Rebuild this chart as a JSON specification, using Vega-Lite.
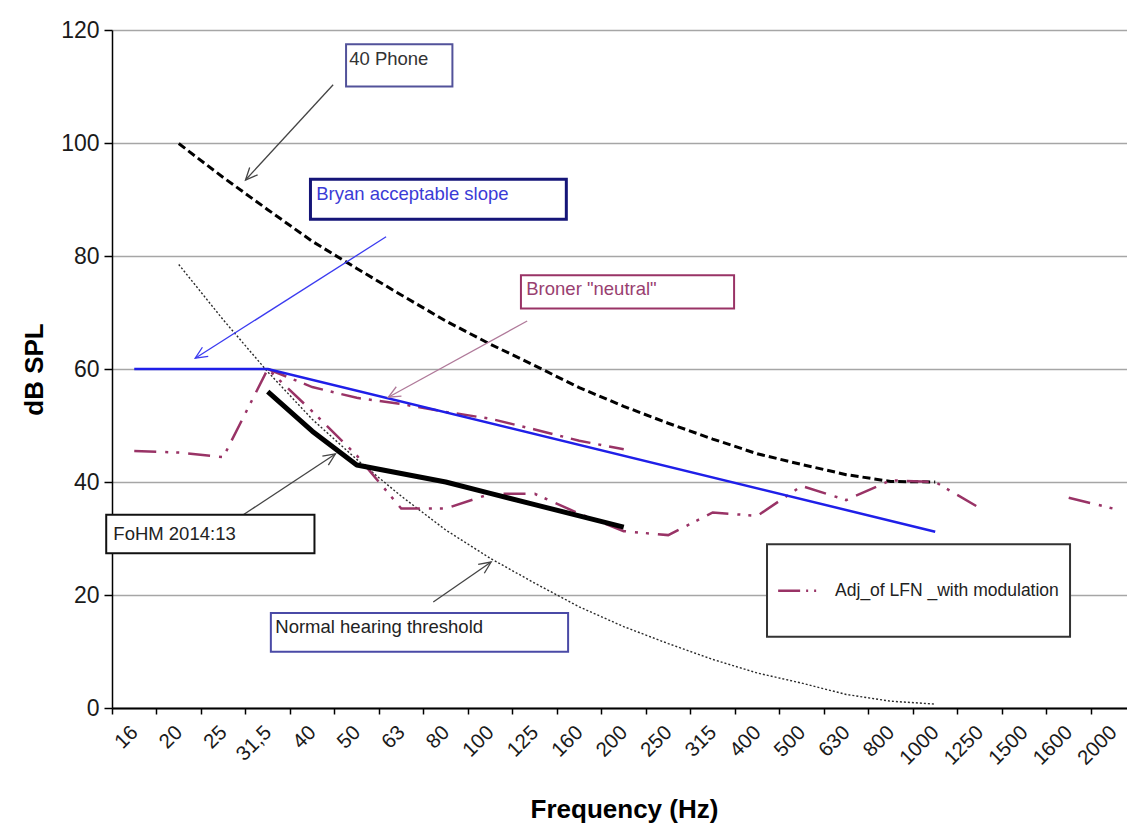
{
  "$schema": "https://vega.github.io/schema/vega-lite/v6.json",
  "width": 1015,
  "height": 678,
  "autosize": {"type": "none"},
  "padding": {"left": 112, "top": 30, "right": 0, "bottom": 118},
  "background": "white",
  "config": {
    "view": {"stroke": null},
    "font": "Liberation Sans, Arial, sans-serif",
    "axisX": {
      "labelOffset": 22.25,
      "labelAngle": -45,
      "labelAlign": "right",
      "labelBaseline": "middle",
      "labelPadding": 15,
      "labelFontSize": 20.5,
      "labelColor": "#1a1a1a",
      "labelOverlap": false,
      "labelFlush": false,
      "labelBound": false,
      "tickSize": 6,
      "tickColor": "#000000",
      "tickWidth": 1.5,
      "domainColor": "#000000",
      "domainWidth": 2,
      "grid": false,
      "titleFontSize": 26,
      "titleFontWeight": "bold",
      "titleColor": "#000000",
      "titleX": 512,
      "titleY": 109,
      "titleAlign": "center",
      "titleBaseline": "alphabetic"
    },
    "axisY": {
      "labelFontSize": 23,
      "labelColor": "#1a1a1a",
      "labelPadding": 5,
      "tickSize": 8,
      "tickColor": "#000000",
      "tickWidth": 1.5,
      "domainColor": "#000000",
      "domainWidth": 1.5,
      "grid": true,
      "gridColor": "#a6a6a6",
      "gridWidth": 1.5,
      "titleFontSize": 26,
      "titleFontWeight": "bold",
      "titleColor": "#000000",
      "titleX": -70,
      "titleY": 339,
      "titleAlign": "center",
      "titleBaseline": "alphabetic"
    }
  },
  "datasets": {
    "curves": [
      {"series": "Normal hearing threshold", "f": "20", "i": 1, "db": 78.5},
      {"series": "Normal hearing threshold", "f": "25", "i": 2, "db": 68.7},
      {"series": "Normal hearing threshold", "f": "31,5", "i": 3, "db": 59.5},
      {"series": "Normal hearing threshold", "f": "40", "i": 4, "db": 51.1},
      {"series": "Normal hearing threshold", "f": "50", "i": 5, "db": 44.0},
      {"series": "Normal hearing threshold", "f": "63", "i": 6, "db": 37.5},
      {"series": "Normal hearing threshold", "f": "80", "i": 7, "db": 31.5},
      {"series": "Normal hearing threshold", "f": "100", "i": 8, "db": 26.5},
      {"series": "Normal hearing threshold", "f": "125", "i": 9, "db": 22.1},
      {"series": "Normal hearing threshold", "f": "160", "i": 10, "db": 17.9},
      {"series": "Normal hearing threshold", "f": "200", "i": 11, "db": 14.4},
      {"series": "Normal hearing threshold", "f": "250", "i": 12, "db": 11.4},
      {"series": "Normal hearing threshold", "f": "315", "i": 13, "db": 8.6},
      {"series": "Normal hearing threshold", "f": "400", "i": 14, "db": 6.2},
      {"series": "Normal hearing threshold", "f": "500", "i": 15, "db": 4.4},
      {"series": "Normal hearing threshold", "f": "630", "i": 16, "db": 2.4},
      {"series": "Normal hearing threshold", "f": "800", "i": 17, "db": 1.2},
      {"series": "Normal hearing threshold", "f": "1000", "i": 18, "db": 0.7},
      {"series": "40 Phone", "f": "20", "i": 1, "db": 99.9},
      {"series": "40 Phone", "f": "25", "i": 2, "db": 93.9},
      {"series": "40 Phone", "f": "31,5", "i": 3, "db": 88.2},
      {"series": "40 Phone", "f": "40", "i": 4, "db": 82.6},
      {"series": "40 Phone", "f": "50", "i": 5, "db": 77.8},
      {"series": "40 Phone", "f": "63", "i": 6, "db": 73.1},
      {"series": "40 Phone", "f": "80", "i": 7, "db": 68.5},
      {"series": "40 Phone", "f": "100", "i": 8, "db": 64.4},
      {"series": "40 Phone", "f": "125", "i": 9, "db": 60.6},
      {"series": "40 Phone", "f": "160", "i": 10, "db": 56.7},
      {"series": "40 Phone", "f": "200", "i": 11, "db": 53.4},
      {"series": "40 Phone", "f": "250", "i": 12, "db": 50.4},
      {"series": "40 Phone", "f": "315", "i": 13, "db": 47.6},
      {"series": "40 Phone", "f": "400", "i": 14, "db": 45.0},
      {"series": "40 Phone", "f": "500", "i": 15, "db": 43.1},
      {"series": "40 Phone", "f": "630", "i": 16, "db": 41.3},
      {"series": "40 Phone", "f": "800", "i": 17, "db": 40.1},
      {"series": "40 Phone", "f": "1000", "i": 18, "db": 40.0},
      {"series": "Broner \"neutral\"", "f": "31,5", "i": 3, "db": 60.0},
      {"series": "Broner \"neutral\"", "f": "40", "i": 4, "db": 56.8},
      {"series": "Broner \"neutral\"", "f": "50", "i": 5, "db": 54.9},
      {"series": "Broner \"neutral\"", "f": "63", "i": 6, "db": 53.8},
      {"series": "Broner \"neutral\"", "f": "80", "i": 7, "db": 52.4},
      {"series": "Broner \"neutral\"", "f": "100", "i": 8, "db": 51.2},
      {"series": "Broner \"neutral\"", "f": "125", "i": 9, "db": 49.3},
      {"series": "Broner \"neutral\"", "f": "160", "i": 10, "db": 47.3},
      {"series": "Broner \"neutral\"", "f": "200", "i": 11, "db": 45.8},
      {"series": "Adj_of LFN _with  modulation", "f": "16", "i": 0, "db": 45.5},
      {"series": "Adj_of LFN _with  modulation", "f": "20", "i": 1, "db": 45.2},
      {"series": "Adj_of LFN _with  modulation", "f": "25", "i": 2, "db": 44.4},
      {"series": "Adj_of LFN _with  modulation", "f": "31,5", "i": 3, "db": 60.0},
      {"series": "Adj_of LFN _with  modulation", "f": "40", "i": 4, "db": 52.5},
      {"series": "Adj_of LFN _with  modulation", "f": "50", "i": 5, "db": 44.7},
      {"series": "Adj_of LFN _with  modulation", "f": "63", "i": 6, "db": 35.3},
      {"series": "Adj_of LFN _with  modulation", "f": "80", "i": 7, "db": 35.3},
      {"series": "Adj_of LFN _with  modulation", "f": "100", "i": 8, "db": 37.9},
      {"series": "Adj_of LFN _with  modulation", "f": "125", "i": 9, "db": 37.9},
      {"series": "Adj_of LFN _with  modulation", "f": "160", "i": 10, "db": 34.4},
      {"series": "Adj_of LFN _with  modulation", "f": "200", "i": 11, "db": 31.3},
      {"series": "Adj_of LFN _with  modulation", "f": "250", "i": 12, "db": 30.6},
      {"series": "Adj_of LFN _with  modulation", "f": "315", "i": 13, "db": 34.6},
      {"series": "Adj_of LFN _with  modulation", "f": "400", "i": 14, "db": 34.0},
      {"series": "Adj_of LFN _with  modulation", "f": "500", "i": 15, "db": 39.3},
      {"series": "Adj_of LFN _with  modulation", "f": "630", "i": 16, "db": 36.8},
      {"series": "Adj_of LFN _with  modulation", "f": "800", "i": 17, "db": 40.3},
      {"series": "Adj_of LFN _with  modulation", "f": "1000", "i": 18, "db": 40.0},
      {"series": "Adj_of LFN _with  modulation", "f": "1250", "i": 19, "db": 35.4},
      {"series": "Adj_of LFN _with  modulation", "f": "1500", "i": 20, "db": null},
      {"series": "Adj_of LFN _with  modulation", "f": "1600", "i": 21, "db": 37.2},
      {"series": "Adj_of LFN _with  modulation", "f": "2000", "i": 22, "db": 35.3},
      {"series": "Bryan acceptable slope", "f": "16", "i": 0, "db": 60.0},
      {"series": "Bryan acceptable slope", "f": "20", "i": 1, "db": 60.0},
      {"series": "Bryan acceptable slope", "f": "25", "i": 2, "db": 60.0},
      {"series": "Bryan acceptable slope", "f": "31,5", "i": 3, "db": 60.0},
      {"series": "Bryan acceptable slope", "f": "1000", "i": 18, "db": 31.2},
      {"series": "FoHM 2014:13", "f": "31,5", "i": 3, "db": 56},
      {"series": "FoHM 2014:13", "f": "40", "i": 4, "db": 49},
      {"series": "FoHM 2014:13", "f": "50", "i": 5, "db": 43},
      {"series": "FoHM 2014:13", "f": "63", "i": 6, "db": 41.5},
      {"series": "FoHM 2014:13", "f": "80", "i": 7, "db": 40},
      {"series": "FoHM 2014:13", "f": "100", "i": 8, "db": 38},
      {"series": "FoHM 2014:13", "f": "125", "i": 9, "db": 36},
      {"series": "FoHM 2014:13", "f": "160", "i": 10, "db": 34},
      {"series": "FoHM 2014:13", "f": "200", "i": 11, "db": 32}
    ],
    "boxes": [
      {"name": "40 Phone", "x": 4.76, "x2": 7.15, "y": 117.5, "y2": 110.0},
      {"name": "Bryan acceptable slope", "x": 3.96, "x2": 9.71, "y": 93.6, "y2": 86.5},
      {"name": "Broner \"neutral\"", "x": 8.69, "x2": 13.48, "y": 76.6, "y2": 70.7},
      {"name": "FoHM 2014:13", "x": -0.63, "x2": 4.05, "y": 34.2, "y2": 27.4},
      {"name": "Normal hearing threshold", "x": 3.07, "x2": 9.75, "y": 16.8, "y2": 9.96},
      {"name": "legend", "x": 14.22, "x2": 21.03, "y": 29.0, "y2": 12.6}
    ],
    "notes": [
      {"text": "40 Phone", "x": 4.83, "y": 113.8},
      {"text": "Bryan acceptable slope", "x": 4.09, "y": 89.9},
      {"text": "Broner \"neutral\"", "x": 8.81, "y": 73.1},
      {"text": "FoHM 2014:13", "x": -0.47, "y": 29.7},
      {"text": "Normal hearing threshold", "x": 3.17, "y": 13.3}
    ],
    "legendtext": [
      {"text": "Adj_of LFN _with  modulation", "x": 15.75, "y": 19.8}
    ],
    "arrows": [
      {"name": "40 Phone", "x": 4.47, "y": 110.3, "x2": 2.50, "y2": 93.45},
      {"name": "Bryan acceptable slope", "x": 5.66, "y": 83.4, "x2": 1.37, "y2": 61.9},
      {"name": "Broner \"neutral\"", "x": 8.83, "y": 68.5, "x2": 5.71, "y2": 55.0},
      {"name": "FoHM 2014:13", "x": 2.45, "y": 34.2, "x2": 4.52, "y2": 44.96},
      {"name": "Normal hearing threshold", "x": 6.72, "y": 18.76, "x2": 8.02, "y2": 25.84}
    ],
    "legendkey": [
      {"series": "Adj_of LFN _with  modulation", "x": 14.47, "x2": 15.33, "y": 20.76}
    ]
  },
  "resolve": {"scale": {"color": "independent", "stroke": "independent"}},
  "layer": [
    {
      "data": {"name": "curves"},
      "transform": [{"filter": {"field": "series", "equal": "Normal hearing threshold"}}],
      "mark": {"type": "line", "color": "#2a2a2a", "strokeWidth": 1.4, "strokeDash": [2, 2]},
      "encoding": {
        "x": {
          "field": "i", "type": "quantitative", "title": "Frequency (Hz)",
          "scale": {"domain": [-0.5, 22.31], "nice": false, "zero": false},
          "axis": {
            "values": [-0.5, 0.5, 1.5, 2.5, 3.5, 4.5, 5.5, 6.5, 7.5, 8.5, 9.5, 10.5, 11.5, 12.5, 13.5, 14.5, 15.5, 16.5, 17.5, 18.5, 19.5, 20.5, 21.5],
            "labelExpr": "['16','20','25','31,5','40','50','63','80','100','125','160','200','250','315','400','500','630','800','1000','1250','1500','1600','2000'][datum.value + 0.5]"
          }
        },
        "y": {
          "field": "db", "type": "quantitative", "title": "dB SPL",
          "scale": {"domain": [0, 120], "nice": false, "zero": false},
          "axis": {"values": [0, 20, 40, 60, 80, 100, 120]}
        }
      }
    },
    {
      "data": {"name": "curves"},
      "transform": [{"filter": {"field": "series", "equal": "40 Phone"}}],
      "mark": {"type": "line", "color": "#000000", "strokeWidth": 3, "strokeDash": [8, 4]},
      "encoding": {
        "x": {"field": "i", "type": "quantitative", "title": "Frequency (Hz)"},
        "y": {"field": "db", "type": "quantitative", "title": "dB SPL"}
      }
    },
    {
      "data": {"name": "curves"},
      "transform": [{"filter": {"field": "series", "equal": "Broner \"neutral\""}}],
      "mark": {"type": "line", "color": "#993366", "strokeWidth": 2.5, "strokeDash": [20, 8, 3, 8]},
      "encoding": {
        "x": {"field": "i", "type": "quantitative", "title": "Frequency (Hz)"},
        "y": {"field": "db", "type": "quantitative", "title": "dB SPL"}
      }
    },
    {
      "data": {"name": "curves"},
      "transform": [{"filter": {"field": "series", "equal": "Adj_of LFN _with  modulation"}}],
      "mark": {"type": "line", "color": "#993366", "strokeWidth": 2.5, "strokeDash": [22, 9, 3, 8, 3, 9], "invalid": "break-paths-show-domains"},
      "encoding": {
        "x": {"field": "i", "type": "quantitative", "title": "Frequency (Hz)"},
        "y": {"field": "db", "type": "quantitative", "title": "dB SPL"}
      }
    },
    {
      "data": {"name": "curves"},
      "transform": [{"filter": {"field": "series", "equal": "Bryan acceptable slope"}}],
      "mark": {"type": "line", "color": "#1f1fe8", "strokeWidth": 2.5},
      "encoding": {
        "x": {"field": "i", "type": "quantitative", "title": "Frequency (Hz)"},
        "y": {"field": "db", "type": "quantitative", "title": "dB SPL"}
      }
    },
    {
      "data": {"name": "curves"},
      "transform": [{"filter": {"field": "series", "equal": "FoHM 2014:13"}}],
      "mark": {"type": "line", "color": "#000000", "strokeWidth": 5, "strokeJoin": "round"},
      "encoding": {
        "x": {"field": "i", "type": "quantitative", "title": "Frequency (Hz)"},
        "y": {"field": "db", "type": "quantitative", "title": "dB SPL"}
      }
    },
    {
      "data": {"name": "arrows"},
      "mark": {"type": "rule", "strokeWidth": 1.3},
      "encoding": {
        "x": {"field": "x", "type": "quantitative", "title": "Frequency (Hz)"},
        "y": {"field": "y", "type": "quantitative", "title": "dB SPL"},
        "x2": {"field": "x2"},
        "y2": {"field": "y2"},
        "color": {
          "field": "name", "type": "nominal", "legend": null,
          "scale": {
            "domain": ["40 Phone", "Bryan acceptable slope", "Broner \"neutral\"", "FoHM 2014:13", "Normal hearing threshold"],
            "range": ["#444444", "#3b3bf0", "#b07a9a", "#444444", "#444444"]
          }
        }
      }
    },
    {
      "data": {"name": "arrows"},
      "transform": [{"filter": {"field": "name", "equal": "40 Phone"}}],
      "mark": {"type": "point", "shape": "M -0.45 1 L 0 0 L 0.45 1", "size": 576, "angle": 222.8, "filled": false, "color": "#444444", "strokeWidth": 1.3, "opacity": 1},
      "encoding": {
        "x": {"field": "x2", "type": "quantitative", "title": "Frequency (Hz)"},
        "y": {"field": "y2", "type": "quantitative", "title": "dB SPL"}
      }
    },
    {
      "data": {"name": "arrows"},
      "transform": [{"filter": {"field": "name", "equal": "Bryan acceptable slope"}}],
      "mark": {"type": "point", "shape": "M -0.45 1 L 0 0 L 0.45 1", "size": 576, "angle": 237.5, "filled": false, "color": "#3b3bf0", "strokeWidth": 1.3, "opacity": 1},
      "encoding": {
        "x": {"field": "x2", "type": "quantitative", "title": "Frequency (Hz)"},
        "y": {"field": "y2", "type": "quantitative", "title": "dB SPL"}
      }
    },
    {
      "data": {"name": "arrows"},
      "transform": [{"filter": {"field": "name", "equal": "Broner \"neutral\""}}],
      "mark": {"type": "point", "shape": "M -0.45 1 L 0 0 L 0.45 1", "size": 576, "angle": 241.3, "filled": false, "color": "#b07a9a", "strokeWidth": 1.3, "opacity": 1},
      "encoding": {
        "x": {"field": "x2", "type": "quantitative", "title": "Frequency (Hz)"},
        "y": {"field": "y2", "type": "quantitative", "title": "dB SPL"}
      }
    },
    {
      "data": {"name": "arrows"},
      "transform": [{"filter": {"field": "name", "equal": "FoHM 2014:13"}}],
      "mark": {"type": "point", "shape": "M -0.45 1 L 0 0 L 0.45 1", "size": 576, "angle": 56.5, "filled": false, "color": "#444444", "strokeWidth": 1.3, "opacity": 1},
      "encoding": {
        "x": {"field": "x2", "type": "quantitative", "title": "Frequency (Hz)"},
        "y": {"field": "y2", "type": "quantitative", "title": "dB SPL"}
      }
    },
    {
      "data": {"name": "arrows"},
      "transform": [{"filter": {"field": "name", "equal": "Normal hearing threshold"}}],
      "mark": {"type": "point", "shape": "M -0.45 1 L 0 0 L 0.45 1", "size": 576, "angle": 55.4, "filled": false, "color": "#444444", "strokeWidth": 1.3, "opacity": 1},
      "encoding": {
        "x": {"field": "x2", "type": "quantitative", "title": "Frequency (Hz)"},
        "y": {"field": "y2", "type": "quantitative", "title": "dB SPL"}
      }
    },
    {
      "data": {"name": "boxes"},
      "transform": [{"filter": "datum.name !== 'Bryan acceptable slope'"}],
      "mark": {"type": "rect", "fill": "#ffffff", "strokeWidth": 2},
      "encoding": {
        "x": {"field": "x", "type": "quantitative", "title": "Frequency (Hz)"},
        "x2": {"field": "x2"},
        "y": {"field": "y", "type": "quantitative", "title": "dB SPL"},
        "y2": {"field": "y2"},
        "stroke": {
          "field": "name", "type": "nominal", "legend": null,
          "scale": {
            "domain": ["40 Phone", "Broner \"neutral\"", "FoHM 2014:13", "Normal hearing threshold", "legend"],
            "range": ["#52529a", "#993366", "#111111", "#4a4aa6", "#333333"]
          }
        }
      }
    },
    {
      "data": {"name": "boxes"},
      "transform": [{"filter": {"field": "name", "equal": "Bryan acceptable slope"}}],
      "mark": {"type": "rect", "fill": "#ffffff", "stroke": "#151578", "strokeWidth": 3},
      "encoding": {
        "x": {"field": "x", "type": "quantitative", "title": "Frequency (Hz)"},
        "x2": {"field": "x2"},
        "y": {"field": "y", "type": "quantitative", "title": "dB SPL"},
        "y2": {"field": "y2"}
      }
    },
    {
      "data": {"name": "notes"},
      "mark": {"type": "text", "align": "left", "baseline": "alphabetic", "fontSize": 18.5},
      "encoding": {
        "x": {"field": "x", "type": "quantitative", "title": "Frequency (Hz)"},
        "y": {"field": "y", "type": "quantitative", "title": "dB SPL"},
        "text": {"field": "text"},
        "color": {
          "field": "text", "type": "nominal", "legend": null,
          "scale": {
            "domain": ["40 Phone", "Bryan acceptable slope", "Broner \"neutral\"", "FoHM 2014:13", "Normal hearing threshold"],
            "range": ["#333333", "#3b3bd6", "#994070", "#222222", "#222222"]
          }
        }
      }
    },
    {
      "data": {"name": "legendtext"},
      "mark": {"type": "text", "align": "left", "baseline": "alphabetic", "fontSize": 17.5, "color": "#222222"},
      "encoding": {
        "x": {"field": "x", "type": "quantitative", "title": "Frequency (Hz)"},
        "y": {"field": "y", "type": "quantitative", "title": "dB SPL"},
        "text": {"field": "text"}
      }
    },
    {
      "data": {"name": "legendkey"},
      "mark": {"type": "rule", "color": "#993366", "strokeWidth": 2.5, "strokeDash": [22, 6, 2, 6, 2, 6]},
      "encoding": {
        "x": {"field": "x", "type": "quantitative", "title": "Frequency (Hz)"},
        "x2": {"field": "x2"},
        "y": {"field": "y", "type": "quantitative", "title": "dB SPL"}
      }
    }
  ]
}
